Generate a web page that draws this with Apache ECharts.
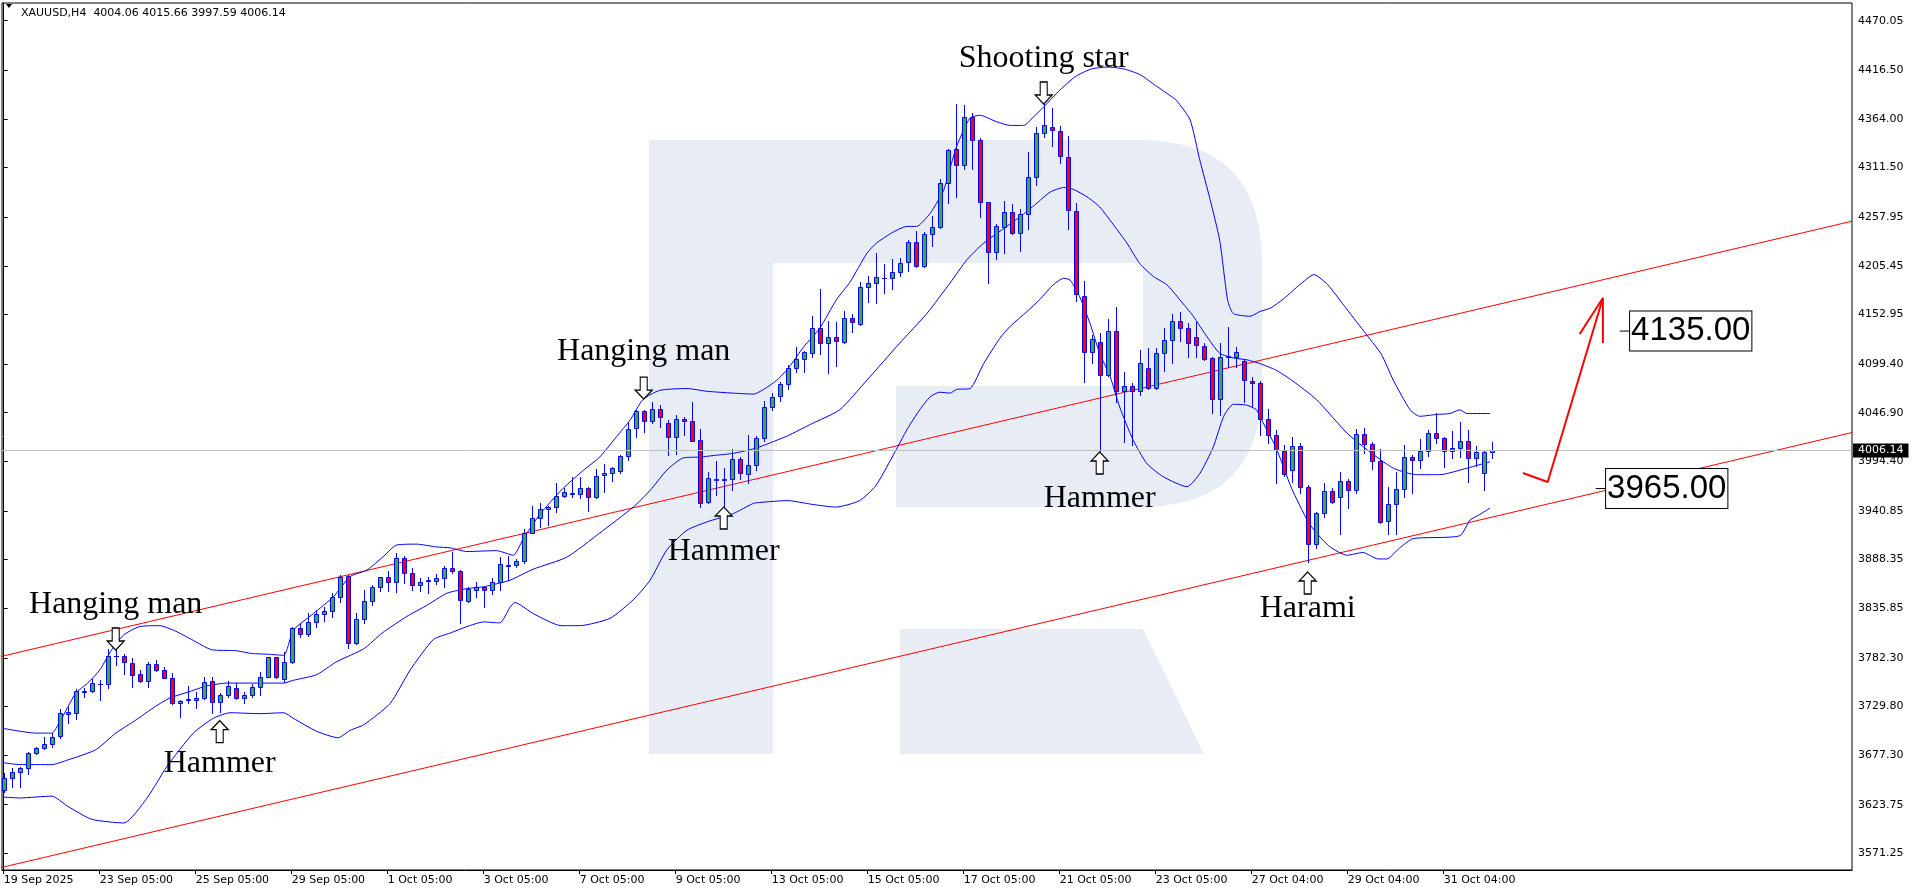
<!DOCTYPE html>
<html><head><meta charset="utf-8">
<script src="https://cdn.jsdelivr.net/npm/echarts@6/dist/echarts.min.js"></script>
<style>html,body{margin:0;padding:0;background:#fff}#c{width:1916px;height:896px}</style>
</head><body><div id="c"></div>
<script>
// ---- data ----
const opens  = [3639.5,3652.1,3658.6,3662.9,3679.1,3684.5,3688.8,3697.8,3721.9,3722.3,3745.3,3746.4,3753.6,3753.6,3784.6,3783.9,3777.0,3764.4,3756.9,3775.2,3768.7,3760.8,3733.1,3736.7,3736.7,3738.5,3756.9,3734.2,3742.1,3749.3,3738.9,3741.7,3751.0,3761.8,3782.7,3759.0,3778.0,3814.1,3807.6,3821.3,3829.2,3833.1,3848.3,3870.6,3798.6,3823.8,3843.9,3859.1,3869.1,3863.7,3889.7,3873.5,3860.5,3865.2,3865.2,3868.1,3878.9,3875.6,3843.9,3855.5,3858.3,3855.5,3864.5,3881.7,3882.0,3887.0,3917.3,3932.8,3942.5,3944.7,3957.3,3959.1,3958.7,3965.2,3955.5,3979.2,3981.4,3983.5,4000.5,4030.0,4049.1,4038.3,4051.3,4036.1,4020.3,4039.7,4037.9,4017.0,3950.1,3974.2,3974.2,3974.9,3996.5,3980.7,3990.0,4019.5,4053.4,4064.9,4077.9,4094.8,4104.5,4111.0,4137.9,4121.8,4128.2,4123.6,4148.8,4142.3,4182.2,4186.5,4191.9,4191.9,4198.4,4209.2,4230.8,4205.3,4239.4,4247.0,4294.5,4331.2,4313.9,4365.7,4341.3,4274.7,4220.7,4247.3,4263.2,4240.5,4261.0,4301.0,4348.5,4355.0,4351.4,4323.3,4265.0,4173.2,4112.1,4123.6,4087.6,4135.4,4070.3,4076.1,4070.3,4094.8,4073.9,4110.9,4125.4,4145.9,4138.0,4128.2,4119.2,4105.6,4061.7,4107.4,4107.4,4102.7,4081.5,4079.3,4039.7,4022.8,4005.9,3985.0,4011.3,3967.0,3905.2,3939.0,3962.7,3955.5,3973.5,3963.4,4023.9,4013.1,3994.8,3930.3,3948.0,3964.2,3998.7,3995.8,4005.5,4024.6,4019.2,4005.5,4008.4,4016.7,3997.6,3981.4,4004.06];
const highs  = [3657.5,3662.9,3664.7,3680.9,3686.3,3696.4,3700.7,3726.6,3729.5,3748.2,3749.3,3759.4,3758.3,3791.8,3790.7,3786.4,3781.7,3769.1,3778.1,3779.9,3772.7,3765.5,3736.7,3751.8,3745.7,3761.2,3761.2,3744.6,3757.6,3754.7,3745.7,3754.0,3766.5,3783.4,3783.4,3788.9,3815.8,3819.5,3831.0,3833.9,3837.5,3851.9,3871.7,3871.7,3830.3,3855.5,3860.9,3869.9,3876.3,3895.8,3892.2,3879.2,3868.1,3869.9,3872.4,3881.4,3896.9,3877.1,3859.1,3863.7,3859.1,3868.1,3890.7,3892.2,3888.8,3920.9,3946.1,3949.7,3946.1,3970.6,3965.2,3977.8,3977.1,3966.3,3985.7,3991.5,3987.9,4001.2,4037.2,4049.8,4049.8,4058.8,4055.2,4039.0,4044.4,4041.9,4058.4,4028.9,3983.2,3994.7,3986.8,4007.3,3999.4,4022.8,4021.7,4059.9,4068.5,4080.4,4098.4,4118.2,4113.9,4151.3,4180.4,4146.2,4144.4,4156.7,4153.4,4188.3,4194.4,4218.9,4207.4,4212.4,4213.5,4233.3,4243.0,4241.9,4259.2,4299.2,4331.5,4380.1,4379.0,4370.8,4343.1,4274.7,4250.6,4275.4,4272.2,4266.8,4328.7,4355.7,4380.9,4375.5,4356.4,4345.6,4272.9,4189.1,4130.8,4132.6,4147.7,4161.4,4091.2,4078.6,4114.6,4116.4,4116.4,4137.9,4153.1,4155.2,4143.4,4145.2,4121.8,4107.4,4122.5,4139.0,4118.2,4104.5,4085.8,4081.5,4050.5,4028.2,4012.0,4020.3,4014.5,3968.8,3940.0,3971.4,3965.3,3982.5,3975.3,4028.9,4030.7,4015.6,4007.4,3966.3,3982.5,4012.0,4001.2,4018.1,4028.2,4046.2,4021.0,4027.5,4037.2,4028.2,4011.3,4006.6,4015.66];
const lows   = [3637.7,3643.1,3643.1,3656.8,3678.4,3683.4,3685.6,3695.3,3711.5,3716.5,3740.3,3745.7,3736.7,3749.3,3774.1,3764.4,3751.1,3756.5,3750.4,3768.4,3760.1,3732.4,3718.0,3733.8,3727.7,3737.4,3722.3,3723.4,3740.3,3737.4,3733.8,3740.3,3742.0,3761.1,3760.4,3756.5,3777.0,3805.1,3806.2,3815.9,3822.4,3825.9,3842.9,3793.2,3797.1,3820.2,3839.3,3854.8,3854.8,3853.7,3863.4,3855.5,3854.4,3852.6,3861.6,3859.1,3873.5,3819.5,3842.9,3847.5,3837.5,3850.8,3855.5,3866.3,3879.9,3884.2,3916.6,3923.8,3925.6,3940.0,3956.2,3956.2,3954.4,3941.1,3954.4,3961.6,3973.5,3981.4,3995.8,4021.0,4026.4,4036.1,4031.8,4001.2,4002.3,4022.8,4016.7,3944.7,3949.7,3958.0,3946.1,3963.4,3974.9,3970.6,3985.0,4016.0,4049.8,4059.9,4072.1,4091.2,4091.2,4106.7,4110.3,4090.1,4097.6,4121.8,4134.4,4141.6,4166.8,4164.9,4176.5,4180.1,4194.8,4200.2,4204.5,4204.5,4227.2,4245.9,4273.6,4279.4,4309.6,4309.6,4258.5,4186.5,4213.2,4219.6,4239.8,4221.8,4245.2,4292.7,4344.9,4334.8,4316.8,4244.8,4167.8,4080.4,4100.9,4004.8,4086.5,4058.8,4015.6,4012.0,4066.0,4072.1,4072.1,4092.3,4100.9,4124.6,4107.4,4107.4,4103.8,4046.9,4044.4,4096.6,4096.6,4058.8,4054.1,4022.8,4013.8,3971.4,3978.9,3972.4,3959.8,3886.1,3900.5,3934.7,3949.1,3915.6,3944.4,3959.9,4003.0,3985.8,3928.2,3916.0,3916.0,3956.3,3959.9,3986.8,4000.2,4013.8,3988.6,3998.4,3999.4,3972.4,3989.4,3963.4,3997.59];
const closes = [3652.1,3658.6,3662.9,3679.1,3684.5,3689.2,3697.1,3723.0,3723.4,3746.8,3746.1,3754.7,3754.3,3784.6,3784.2,3777.7,3763.3,3757.2,3775.2,3768.7,3760.8,3733.1,3736.0,3737.8,3738.9,3756.5,3734.2,3742.1,3751.5,3739.2,3741.7,3751.1,3761.8,3782.7,3761.1,3778.0,3814.1,3807.6,3821.3,3829.2,3833.1,3848.3,3869.9,3798.6,3823.8,3843.9,3859.1,3869.1,3863.7,3889.7,3873.5,3860.5,3863.7,3865.9,3868.1,3878.9,3875.6,3844.7,3856.2,3858.3,3855.5,3864.5,3883.2,3882.5,3886.3,3917.3,3932.8,3942.5,3945.0,3957.3,3961.6,3959.8,3965.2,3955.5,3978.9,3981.4,3986.8,4000.5,4029.3,4049.1,4038.3,4051.3,4041.9,4020.3,4039.7,4037.6,4016.7,3949.7,3976.0,3974.9,3974.9,3996.5,3981.4,3990.0,4019.2,4053.4,4063.5,4077.9,4094.8,4104.5,4112.0,4137.9,4121.8,4128.2,4123.9,4148.8,4144.4,4182.2,4186.5,4193.0,4192.6,4198.4,4208.1,4230.8,4205.3,4239.4,4247.3,4294.5,4330.5,4313.9,4365.7,4341.3,4274.7,4220.7,4248.4,4263.2,4240.5,4261.0,4301.0,4348.5,4357.5,4352.1,4324.0,4265.7,4175.0,4112.1,4126.1,4087.6,4135.4,4070.3,4076.1,4070.3,4100.9,4073.9,4110.9,4125.4,4145.9,4138.0,4121.8,4119.9,4104.5,4061.7,4107.4,4108.1,4112.8,4082.2,4079.3,4039.7,4022.8,4006.6,3980.4,4011.3,3967.0,3905.2,3939.0,3962.7,3950.1,3973.5,3963.4,4023.9,4013.1,3994.8,3929.3,3948.0,3964.2,3998.7,3995.8,4005.5,4024.6,4019.2,4005.5,4008.4,4016.7,3997.6,4004.1,4004.1,4006.14];

// Bollinger bands as [bar, price]
const upperBand = [[0,3706],[4,3701],[6,3701],[7,3713],[9,3744],[10.5,3755],[12,3769],[13.5,3791],[15,3807],[17,3816],[19.5,3817],[21.5,3811],[23.5,3802],[26,3791],[29,3790],[31,3787],[33.3,3786],[35,3785],[36.2,3812],[38.7,3830],[41.2,3848],[43.3,3870],[45.4,3877],[47.5,3892],[49.1,3904],[51.6,3905],[54.1,3902],[55.8,3901],[57.9,3897],[61.6,3898],[63.7,3893],[64.9,3910],[67,3937],[69.9,3965],[72.5,3985],[74.5,3999],[76.6,4021],[78.3,4039],[79.9,4061],[82,4071],[85.4,4073],[87.9,4070],[91.2,4068],[93.7,4067],[96.2,4079],[97.9,4093],[100,4118],[102,4138],[104.1,4169],[105.8,4188],[107.9,4219],[109.1,4230],[111.2,4242],[112.9,4248],[114.1,4248],[115.8,4262],[116.6,4273],[117.5,4287],[118.3,4311],[119.1,4334],[120,4352],[120.8,4365],[122,4368],[124.1,4361],[125.8,4357],[127.5,4357],[128.7,4366],[130,4377],[132,4395],[134,4410],[136,4418],[138,4420],[140,4418],[142,4412],[144,4400],[146,4388],[146.6,4384],[148.3,4363],[149.5,4320],[150.8,4277],[152,4233],[153,4168],[153.7,4154],[155.8,4151],[157,4156],[158.4,4160],[160,4170],[162,4185],[163.8,4196],[165.5,4185],[167.5,4163],[170,4135],[172.2,4110],[173.7,4082],[175.8,4050],[177,4043],[179.1,4045],[180.8,4046],[182,4050],[182.9,4046],[185.8,4046]];
const middleBand = [[0,3669],[2,3667],[6,3667],[8,3672],[11.5,3683],[14,3701],[16.5,3715],[19,3730],[20.8,3739],[23.3,3746],[25.4,3752],[27.9,3755],[32,3755],[35,3755],[36.2,3758],[39.1,3764],[41.6,3778],[45,3792],[47.3,3809],[50.4,3827],[52.9,3839],[55.4,3852],[57.9,3857],[60,3859],[62,3863],[63.3,3866],[66.2,3878],[70.4,3891],[74.5,3917],[78.7,3945],[80.8,3963],[82.9,3985],[84.9,3998],[87,3999],[89.1,4001],[91.2,4003],[93.3,4007],[94.5,4010],[98,4022],[101,4035],[104.5,4050],[107.9,4082],[112,4122],[115.4,4154],[118.3,4187],[120.4,4212],[122.5,4230],[124.9,4245],[127,4258],[129,4272],[130.8,4285],[132.5,4290],[133.7,4288],[135.4,4280],[137,4269],[138.7,4250],[140.4,4230],[142,4208],[143.7,4194],[145.4,4185],[147,4169],[148.7,4151],[150.4,4129],[152,4111],[153.7,4106],[155.4,4104],[157,4100],[159,4093],[161,4082],[164.1,4061],[167.9,4025],[170.4,4007],[173.7,3987],[176.6,3980],[179.5,3980],[182.9,3987],[185.8,3994]];
const lowerBand = [[0,3632],[2,3631],[6,3633],[8,3622],[11,3608],[15,3604],[18,3632],[20.4,3665],[23.7,3701],[26.2,3717],[28.3,3723],[32,3722],[35,3723],[36.2,3717],[39.1,3703],[41.8,3696],[43.3,3704],[45,3710],[48.3,3733],[50.8,3769],[53.7,3802],[55.8,3809],[57.9,3816],[60,3821],[62,3820],[63.3,3837],[63.9,3842],[66.2,3830],[69.7,3817],[72,3817],[75.8,3825],[78.7,3845],[80.8,3866],[82.9,3899],[85.4,3920],[87.9,3929],[91.2,3938],[93.7,3949],[94.5,3950],[98,3952],[101,3948],[104,3945],[107,3952],[109,3968],[111,3998],[113,4030],[114.5,4050],[115.8,4064],[117,4069],[118.3,4068],[119.1,4072],[120.8,4073],[122.5,4100],[124.5,4127],[125.8,4140],[127.9,4156],[129.5,4169],[131.2,4185],[132.5,4192],[133.3,4190],[134.5,4172],[135.8,4143],[137,4111],[138.3,4086],[139.5,4053],[141.2,4017],[142.9,3992],[144.9,3978],[147.9,3967],[149.5,3981],[151.2,4010],[152.5,4043],[153.7,4056],[155.4,4055],[156.6,4050],[157,4043],[159,4010],[161,3965],[163,3930],[164.1,3917],[165.8,3902],[167.9,3893],[169.9,3896],[171.8,3889],[172.9,3889],[174.5,3901],[176.2,3911],[182,3914],[183.3,3931],[184.5,3937],[185.8,3944]];

// trend channel (two parallel lines), [bar, price]
const channelUpper = [[-0.46,3783.5],[231.04,4253.6]];
const channelLower = [[-0.46,3555.6],[231.04,4025.5]];
// forecast arrow
const forecastPath = [[189.9,3981.8],[193.0,3972.1],[199.9,4170.7]];
const forecastHead = [[197.0,4131.9],[199.9,4170.7],[199.9,4122.1]];
const targetLevels = [{price:4135.00, from:202.0, to:203.3},{price:3965.00, from:199.0, to:200.3}];
const lastPrice = 4006.14;

// axis ticks
const yTicks = [4470.05,4416.50,4364.00,4311.50,4257.95,4205.45,4152.95,4099.40,4046.90,3994.40,3940.85,3888.35,3835.85,3782.30,3729.80,3677.30,3623.75,3571.25];
const xTickIdx = [0,12,24,36,48,60,72,84,96,108,120,132,144,156,168,180];
const xTickLabels = ['19 Sep 2025','23 Sep 05:00','25 Sep 05:00','29 Sep 05:00','1 Oct 05:00','3 Oct 05:00','7 Oct 05:00','9 Oct 05:00','13 Oct 05:00','15 Oct 05:00','17 Oct 05:00','21 Oct 05:00','23 Oct 05:00','27 Oct 04:00','29 Oct 04:00','31 Oct 04:00'];

// candlestick pattern annotations
const patterns = [
  {name:'Hanging man', bar:14, dir:'down', arrowAt:3802.6, textAt:3839.3},
  {name:'Hammer', bar:27, dir:'up', arrowAt:3702.6, textAt:3667.7},
  {name:'Hanging man', bar:80, dir:'down', arrowAt:4073.4, textAt:4112.4},
  {name:'Hammer', bar:90, dir:'up', arrowAt:3933.2, textAt:3896.5},
  {name:'Shooting star', bar:130, dir:'down', arrowAt:4392.0, textAt:4428.7},
  {name:'Hammer', bar:137, dir:'up', arrowAt:3992.6, textAt:3953.7},
  {name:'Harami', bar:163, dir:'up', arrowAt:3863.1, textAt:3835.0}
];

// ---- chart ----
const chart = echarts.init(document.getElementById('c'), null, {renderer:'canvas'});
const candleData = opens.map((o,i)=>[i,o,closes[i],lows[i],highs[i]]);
const BULL='#2fb52f', BEAR='#ff0000', OUT='#0000ff';

function renderCandle(params, api){
  const i=api.value(0), o=api.value(1), c=api.value(2), l=api.value(3), h=api.value(4);
  const pO=api.coord([i,o]), pC=api.coord([i,c]), pL=api.coord([i,l]), pH=api.coord([i,h]);
  const x=Math.round(pO[0])+0.5;
  const top=Math.round(Math.min(pO[1],pC[1]))+0.5, bot=Math.round(Math.max(pO[1],pC[1]))+0.5;
  const ch=[{type:'line',shape:{x1:x,y1:Math.round(pH[1]),x2:x,y2:Math.round(pL[1])+1},style:{stroke:OUT,lineWidth:1}}];
  if (bot-top<1){
    ch.push({type:'line',shape:{x1:x-2.5,y1:top,x2:x+2.5,y2:top},style:{stroke:OUT,lineWidth:1}});
  } else {
    ch.push({type:'rect',shape:{x:x-2,y:top,width:4,height:bot-top},style:{fill:c>=o?BULL:BEAR,stroke:OUT,lineWidth:1}});
  }
  return {type:'group',children:ch};
}

const downArrow='path://M5,0L12,0L12,13L17,13L8.5,22L0,13L5,13Z';
const upArrow='path://M8.5,0L17,9L12,9L12,22L5,22L5,9L0,9Z';

const bandStyle = {type:'line',showSymbol:false,symbol:'none',smooth:0.2,lineStyle:{color:'#0000ff',width:1},silent:true,z:3};

const series = [
  {type:'line',data:channelUpper,showSymbol:false,symbol:'none',lineStyle:{color:'#ff0000',width:1},silent:true,z:2},
  {type:'line',data:channelLower,showSymbol:false,symbol:'none',lineStyle:{color:'#ff0000',width:1},silent:true,z:2},
  Object.assign({},bandStyle,{data:upperBand}),
  Object.assign({},bandStyle,{data:middleBand}),
  Object.assign({},bandStyle,{data:lowerBand}),
  {type:'custom',renderItem:renderCandle,data:candleData,encode:{x:0,y:[1,2,3,4]},z:4,clip:false,
   markLine:{silent:true,symbol:'none',animation:false,
     lineStyle:{color:'#c0c0c0',width:1,type:'solid'},
     label:{show:true,position:'end',formatter:String(lastPrice.toFixed(2)),backgroundColor:'#000',color:'#fff',
       fontFamily:'DejaVu Sans',fontSize:11,padding:[2,5,1,5],distance:1},
     data:[{yAxis:lastPrice}]}},
  {type:'line',data:forecastPath,showSymbol:false,symbol:'none',lineStyle:{color:'#ff0000',width:2},silent:true,z:5},
  {type:'line',data:forecastHead,showSymbol:false,symbol:'none',lineStyle:{color:'#ff0000',width:2},silent:true,z:5}
];
targetLevels.forEach(t=>{
  series.push({type:'line',data:[[t.from,t.price],[t.to,t.price]],symbol:'none',showSymbol:false,lineStyle:{color:'#000',width:1},silent:true,z:6,
    endLabel:{show:true,formatter:t.price.toFixed(2),fontFamily:'Liberation Sans',fontSize:33,color:'#000',
      backgroundColor:'#fff',borderColor:'#000',borderWidth:1,padding:[3,1,3,1],distance:0,lineHeight:33}});
});
series.push({type:'scatter',z:7,silent:true,
  data:patterns.map(p=>({value:[p.bar,p.arrowAt],symbol:p.dir==='down'?downArrow:upArrow})),
  symbolSize:[17,22],itemStyle:{color:'#fff',borderColor:'#000',borderWidth:1.2,opacity:1}});
series.push({type:'scatter',z:7,silent:true,symbol:'circle',symbolSize:1,itemStyle:{color:'rgba(0,0,0,0)'},
  data:patterns.map(p=>({value:[p.bar,p.textAt],label:{show:true,formatter:p.name}})),
  label:{show:true,position:'inside',fontFamily:'Liberation Serif',fontSize:32,color:'#000',opacity:1}});

// watermark outline (decoration, pixel space)
function quad(p0,c,p1,n){const pts=[];for(let k=1;k<=n;k++){const t=k/n,u=1-t;pts.push([u*u*p0[0]+2*u*t*c[0]+t*t*p1[0],u*u*p0[1]+2*u*t*c[1]+t*t*p1[1]]);}return pts;}
const bowl=[[773,140],[1140,140]].concat(quad([1140,140],[1262,140],[1262,262],12),[[1262,385]],quad([1262,385],[1262,507],[1140,507],12),[[896,507],[896,386],[1143,386],[1143,263],[773,263]]);
const WM='#e8edf5';

chart.setOption({
  animation:false,
  backgroundColor:'#fff',
  grid:{left:2,top:3,width:1850,height:867,show:true,borderColor:'#000',borderWidth:1,backgroundColor:'transparent'},
  xAxis:{type:'value',min:-0.2125,max:231.0375,splitLine:{show:false},
    axisLine:{show:true,lineStyle:{color:'#000',width:1}},
    axisTick:{show:true,customValues:xTickIdx,length:4,inside:false,lineStyle:{color:'#000'}},
    axisLabel:{customValues:xTickIdx,formatter:v=>xTickLabels[xTickIdx.indexOf(Math.round(v))]||'',
      align:'left',margin:5,fontFamily:'DejaVu Sans',fontSize:11,color:'#000'}},
  yAxis:{type:'value',position:'right',min:3553.23,max:4489.16,splitLine:{show:false},scale:true,
    axisLine:{show:true,lineStyle:{color:'#000',width:1}},
    axisTick:{show:true,customValues:yTicks,length:4,inside:false,lineStyle:{color:'#000'}},
    axisLabel:{customValues:yTicks,formatter:v=>v.toFixed(2),margin:6,fontFamily:'DejaVu Sans',fontSize:11,color:'#000'}},
  graphic:[
    {type:'rect',z:-1,silent:true,shape:{x:649,y:140,width:124,height:614},style:{fill:WM}},
    {type:'polygon',z:-1,silent:true,shape:{points:bowl},style:{fill:WM}},
    {type:'polygon',z:-1,silent:true,shape:{points:[[900,629],[1143,629],[1204,754],[900,754]]},style:{fill:WM}},
    {type:'polygon',silent:true,shape:{points:[[6,4],[12,4],[9,8]]},style:{fill:'#000'}},
    {type:'text',silent:true,x:21,y:13,style:{text:'XAUUSD,H4  4004.06 4015.66 3997.59 4006.14',fontFamily:'DejaVu Sans',fontSize:11,fill:'#000',verticalAlign:'middle'}}
  ],
  series:series
});
</script></body></html>
